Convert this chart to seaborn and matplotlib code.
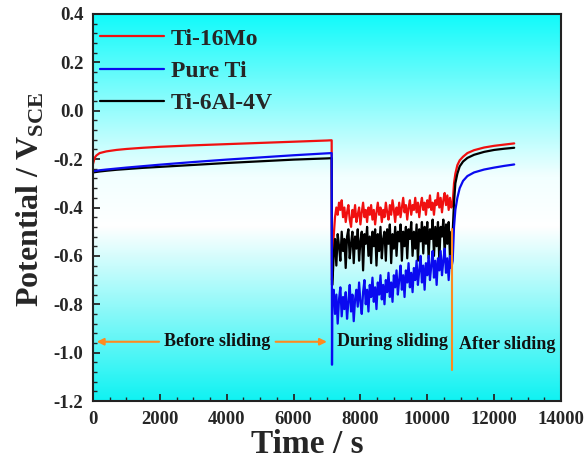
import numpy as np
import pandas as pd
import matplotlib
matplotlib.use("Agg")
import matplotlib.pyplot as plt
from matplotlib.colors import LinearSegmentedColormap
from matplotlib.ticker import MultipleLocator
from matplotlib.lines import Line2D
import seaborn as sns

# ---------------- data ----------------
series_names = ["Ti-16Mo", "Pure Ti", "Ti-6Al-4V"]
series_colors = ["#F01010", "#0A0AF0", "#000000"]

t_before = [0, 50, 100, 200, 400, 700, 1000, 1500, 2000, 3000, 4000, 5000, 6000, 7000, 7140]
red_before = [-0.22, -0.195, -0.185, -0.175, -0.168, -0.162, -0.158, -0.153, -0.149, -0.143,
              -0.138, -0.133, -0.128, -0.123, -0.122]
blue_before = [-0.25, -0.249, -0.248, -0.246, -0.243, -0.239, -0.235, -0.229, -0.223, -0.212,
               -0.202, -0.193, -0.184, -0.176, -0.175]
black_before = [-0.255, -0.254, -0.253, -0.251, -0.248, -0.244, -0.241, -0.236, -0.232, -0.224,
                -0.216, -0.209, -0.202, -0.197, -0.196]

t_drop = 7150
red_drop = -0.70
blue_drop = -1.05
black_drop = -0.72

t_sliding = np.arange(7160, 10741, 40)
red_sliding = [-0.66, -0.52, -0.44, -0.40, -0.43, -0.38, -0.41, -0.37, -0.44, -0.40,
               -0.46, -0.42, -0.39, -0.45, -0.48, -0.41, -0.44, -0.39, -0.46, -0.43,
               -0.40, -0.47, -0.42, -0.38, -0.44, -0.41, -0.46, -0.40, -0.43, -0.39,
               -0.45, -0.41, -0.47, -0.42, -0.38, -0.43, -0.40, -0.46, -0.41, -0.44,
               -0.38, -0.42, -0.45, -0.39, -0.43, -0.37, -0.41, -0.46, -0.40, -0.43,
               -0.38, -0.44, -0.40, -0.36, -0.42, -0.39, -0.45, -0.40, -0.37, -0.43,
               -0.39, -0.41, -0.36, -0.42, -0.38, -0.44, -0.39, -0.36, -0.41, -0.38,
               -0.43, -0.37, -0.40, -0.35, -0.41, -0.38, -0.43, -0.37, -0.39, -0.34,
               -0.40, -0.36, -0.42, -0.37, -0.34, -0.39, -0.35, -0.41, -0.36, -0.40]
black_sliding = [-0.72, -0.60, -0.53, -0.64, -0.51, -0.56, -0.62, -0.50, -0.58, -0.53,
                 -0.65, -0.52, -0.49, -0.61, -0.55, -0.50, -0.63, -0.52, -0.57, -0.49,
                 -0.62, -0.54, -0.50, -0.66, -0.51, -0.55, -0.48, -0.60, -0.52, -0.63,
                 -0.50, -0.56, -0.49, -0.64, -0.51, -0.58, -0.48, -0.61, -0.53, -0.50,
                 -0.62, -0.49, -0.55, -0.47, -0.63, -0.51, -0.57, -0.48, -0.60, -0.50,
                 -0.54, -0.47, -0.62, -0.50, -0.56, -0.48, -0.61, -0.49, -0.53, -0.46,
                 -0.60, -0.50, -0.57, -0.47, -0.62, -0.49, -0.54, -0.46, -0.59, -0.48,
                 -0.55, -0.46, -0.61, -0.49, -0.53, -0.45, -0.60, -0.48, -0.56, -0.46,
                 -0.62, -0.48, -0.52, -0.45, -0.59, -0.47, -0.55, -0.46, -0.61, -0.50]
blue_sliding = [-0.80, -0.74, -0.84, -0.76, -0.88, -0.78, -0.73, -0.85, -0.77, -0.82,
                -0.75, -0.86, -0.79, -0.72, -0.83, -0.76, -0.87, -0.78, -0.74, -0.81,
                -0.71, -0.79, -0.84, -0.75, -0.70, -0.80, -0.74, -0.83, -0.72, -0.77,
                -0.69, -0.79, -0.73, -0.82, -0.71, -0.76, -0.68, -0.78, -0.72, -0.80,
                -0.70, -0.75, -0.67, -0.77, -0.71, -0.79, -0.68, -0.73, -0.66, -0.76,
                -0.70, -0.64, -0.74, -0.68, -0.77, -0.66, -0.71, -0.63, -0.73, -0.67,
                -0.75, -0.65, -0.70, -0.62, -0.72, -0.66, -0.60, -0.71, -0.64, -0.74,
                -0.63, -0.68, -0.60, -0.70, -0.64, -0.58, -0.69, -0.62, -0.72, -0.61,
                -0.66, -0.58, -0.68, -0.62, -0.57, -0.67, -0.61, -0.70, -0.60, -0.65]

t_after = [10760, 10800, 10840, 10900, 10970, 11070, 11200, 11400, 11700, 12000, 12300, 12600]
red_after = [-0.38, -0.30, -0.26, -0.225, -0.205, -0.19, -0.175, -0.163, -0.152, -0.145, -0.14, -0.135]
black_after = [-0.50, -0.38, -0.30, -0.26, -0.23, -0.21, -0.195, -0.182, -0.17, -0.162, -0.157, -0.153]
blue_after = [-0.62, -0.48, -0.41, -0.36, -0.32, -0.29, -0.27, -0.255, -0.243, -0.235, -0.228, -0.222]

xticks = [0, 2000, 4000, 6000, 8000, 10000, 12000, 14000]
yticks = [0.4, 0.2, 0.0, -0.2, -0.4, -0.6, -0.8, -1.0, -1.2]
phase_labels = ["Before sliding", "During sliding", "After sliding"]
t_sliding_end = 10740

# ---------------- build frame ----------------
def build(name, before, drop, sliding, after):
    t = list(t_before) + [t_drop] + list(t_sliding) + list(t_after)
    v = list(before) + [drop] + list(sliding) + list(after)
    return pd.DataFrame({"Time": t, "Potential": v, "Alloy": name})

df = pd.concat([
    build("Ti-16Mo", red_before, red_drop, red_sliding, red_after),
    build("Ti-6Al-4V", black_before, black_drop, black_sliding, black_after),
    build("Pure Ti", blue_before, blue_drop, blue_sliding, blue_after),
], ignore_index=True)

# ---------------- plot ----------------
sns.set_style("ticks")
plt.rcParams["font.family"] = ["Liberation Serif", "DejaVu Serif"]
plt.rcParams["mathtext.fontset"] = "custom"
plt.rcParams["mathtext.rm"] = "Liberation Serif:bold"
plt.rcParams["mathtext.bf"] = "Liberation Serif:bold"

fig = plt.figure(figsize=(5.87, 4.62), dpi=100)
ax = fig.add_axes([0.1584, 0.132, 0.7973, 0.8377])

# gradient background
cmap = LinearSegmentedColormap.from_list(
    "bg", [(0.0, "#10FAFA"), (0.42, "#F2FFFF"), (0.55, "#FFFFFF"), (1.0, "#10F2F2")])
grad = np.linspace(0, 1, 256).reshape(-1, 1)
ax.imshow(grad, extent=[0, 1, 0, 1], transform=ax.transAxes, aspect="auto",
          cmap=cmap, origin="upper", zorder=0)

palette = dict(zip(series_names, series_colors))
sns.lineplot(data=df, x="Time", y="Potential", hue="Alloy", palette=palette,
             estimator=None, sort=False, linewidth=1.6, ax=ax, legend=False, zorder=2)

ax.set_xlim(0, 14000)
ax.set_ylim(-1.2, 0.4)
ax.set_xticks(xticks)
ax.set_yticks(yticks)
ax.set_yticklabels([f"{v:.1f}" for v in yticks])
ax.xaxis.set_minor_locator(MultipleLocator(500))
ax.yaxis.set_minor_locator(MultipleLocator(0.04))
ax.tick_params(which="both", direction="in", top=False, right=False)
ax.tick_params(which="major", length=5, width=1.3, labelsize=13.5, pad=7)
ax.tick_params(which="minor", length=3, width=1.0)
for lab in ax.get_xticklabels() + ax.get_yticklabels():
    lab.set_fontweight("bold")
for sp in ax.spines.values():
    sp.set_linewidth(1.5)
    sp.set_color("#222222")

ax.set_xlabel("Time / s", fontsize=24, fontweight="bold", labelpad=2)
ax.xaxis.set_label_coords(0.457, -0.072, transform=ax.transAxes)
ax.xaxis.label.set_va("top")
ax.set_ylabel(r"Potential / V$_{\mathbf{SCE}}$", fontsize=23, fontweight="bold")
ax.yaxis.set_label_coords(-0.1, 0.522, transform=ax.transAxes)

# legend
handles = [Line2D([], [], color=c, lw=1.6) for c in series_colors]
leg = ax.legend(handles, series_names, loc="upper left", frameon=False,
                prop={"family": "Liberation Serif", "weight": "bold", "size": 17},
                handlelength=2.7, handletextpad=0.3, labelspacing=0.45,
                borderaxespad=0.2, bbox_to_anchor=(-0.015, 1.0))

# annotations
orange = "#FF8A1E"
y_ann = -0.955
ax.annotate("", xy=(30, y_ann), xytext=(2060, y_ann),
            arrowprops=dict(arrowstyle="-|>", color=orange, lw=1.5, mutation_scale=10), zorder=3)
ax.annotate("", xy=(7080, y_ann), xytext=(5380, y_ann),
            arrowprops=dict(arrowstyle="-|>", color=orange, lw=1.5, mutation_scale=10), zorder=3)
ax.text(3724, y_ann, phase_labels[0], ha="center", va="center", fontsize=13,
        fontweight="bold", color="#111111")
ax.text(8960, y_ann, phase_labels[1], ha="center", va="center", fontsize=13,
        fontweight="bold", color="#111111")
ax.text(12385, y_ann - 0.013, phase_labels[2], ha="center", va="center", fontsize=13,
        fontweight="bold", color="#111111")
ax.plot([t_sliding_end, t_sliding_end], [-0.49, -1.07], color=orange, lw=1.5, zorder=3)

fig.savefig("out.png", dpi=100)
